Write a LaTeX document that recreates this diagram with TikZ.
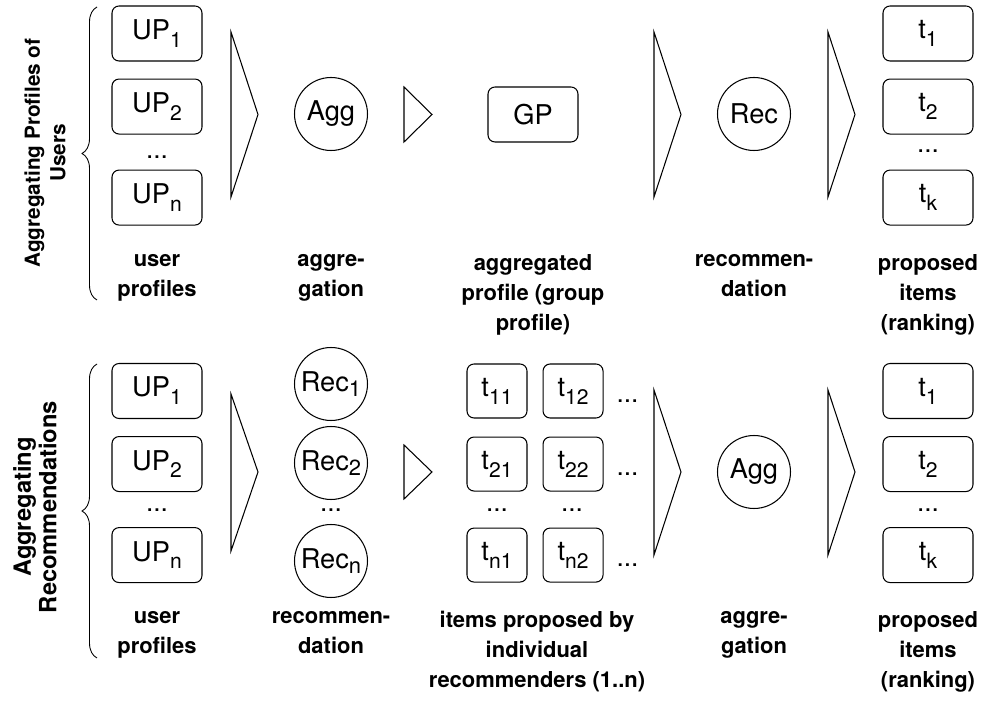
\documentclass[tikz,border=0pt]{standalone}
\usepackage{fontspec}
\setmainfont{TeX Gyre Heros}
\usepackage{tikz}
\usetikzlibrary{positioning,decorations.pathreplacing}

\newcommand{\ix}[1]{\raisebox{-0.55ex}{\fontsize{12}{12}\selectfont #1}}
\newcommand{\recsub}[1]{\raisebox{-0.3ex}{\fontsize{12.5}{12}\selectfont #1}}

\begin{document}
\begin{tikzpicture}[
    x=0.02cm, y=-0.02cm,
    line width=0.6pt,
    box/.style={draw, rounded corners=4pt, minimum width=1.8cm, minimum height=1.1cm, inner sep=1pt, font=\fontsize{15.5}{17}\selectfont},
    smallbox/.style={box, minimum width=1.2cm, minimum height=1.08cm},
    proc/.style={draw, circle, minimum size=1.46cm, inner sep=0pt, font=\fontsize{15.5}{17}\selectfont},
    dots/.style={inner sep=0pt, font=\fontsize{15}{17}\selectfont},
    caption/.style={anchor=north, align=center, inner sep=0pt, font=\bfseries\fontsize{12.5}{17}\selectfont},
    title/.style={rotate=90, align=center, inner sep=0pt, font=\bfseries\fontsize{11.8}{14.5}\selectfont},
    funnel/.style={draw, line join=miter},
    bracedeco/.style={decorate, decoration={brace, amplitude=0.3cm}, line width=0.5pt}
]
\useasboundingbox (0,0) rectangle (985,702);

% Aggregating profiles of users
\node[title] (title-top) at (45,153) {Aggregating Profiles of\\Users};
\draw[bracedeco] (97,300) -- (97,7);

\node[box] (up1) at (157,33.5) {UP\ix{1}};
\node[box, below=0.34cm of up1] (up2) {UP\ix{2}};
\node[box, below=0.7cm of up2] (upn) {UP\ix{n}};
\node[dots] (updots) at (157,157) {...};

\node[proc] (agg) at (331,114) {Agg};
\node[box] (gp) at (533,114.5) {GP};
\node[proc] (rec) at (754,114) {Rec};

\node[box] (t1) at (928,33.5) {t\ix{1}};
\node[box, below=0.34cm of t1] (t2) {t\ix{2}};
\node[box, below=0.7cm of t2] (tk) {t\ix{k}};
\node[dots] (tdots) at (928,151) {...};

\draw[funnel] (231,32) -- (258,114.5) -- (231,197) -- cycle;
\draw[funnel] (404,87) -- (432,114.5) -- (404,142) -- cycle;
\draw[funnel] (654,32) -- (681,114.5) -- (654,197) -- cycle;
\draw[funnel] (828,32) -- (855,114.5) -- (828,197) -- cycle;

\node[caption] (lbl-up) at (157,254) {user\\profiles};
\node[caption] (lbl-agg) at (331,254) {aggre-\\gation};
\node[caption] (lbl-gp) at (533,254) {aggregated\\profile (group\\profile)};
\node[caption] (lbl-rec) at (754,254) {recommen-\\dation};
\node[caption] (lbl-t) at (928,254) {proposed\\items\\(ranking)};

% Aggregating recommendations
\node[title, font=\bfseries\fontsize{13.5}{14.5}\selectfont] (title-bot) at (35,507) {Aggregating\\Recommendations};
\draw[bracedeco] (97,658) -- (97,364);

\node[box] (bup1) at (157,391) {UP\ix{1}};
\node[box, below=0.34cm of bup1] (bup2) {UP\ix{2}};
\node[box, below=0.7cm of bup2] (bupn) {UP\ix{n}};
\node[dots] (bupdots) at (157,510) {...};

\node[proc] (rec1) at (331,384) {Rec\recsub{1}};
\node[proc] (rec2) at (331,463) {Rec\recsub{2}};
\node[proc] (recn) at (331,561) {Rec\recsub{n}};
\node[dots] (recdots) at (331,510) {...};

\node[smallbox] (t11) at (497,391) {t\ix{11}};
\node[smallbox, right=0.3cm of t11] (t12) {t\ix{12}};
\node[smallbox, below=0.36cm of t11] (t21) {t\ix{21}};
\node[smallbox, right=0.3cm of t21] (t22) {t\ix{22}};
\node[smallbox, below=0.72cm of t21] (tn1) {t\ix{n1}};
\node[smallbox, right=0.3cm of tn1] (tn2) {t\ix{n2}};
\node[dots] (col1dots) at (497,510) {...};
\node[dots] (col2dots) at (572,510) {...};
\node[dots, right=0.25cm of t12, yshift=-6pt] (row1dots) {...};
\node[dots, right=0.25cm of t22, yshift=-6pt] (row2dots) {...};
\node[dots, right=0.25cm of tn2, yshift=-6pt] (rowndots) {...};

\node[proc] (bagg) at (754,472) {Agg};

\node[box] (bt1) at (928,391) {t\ix{1}};
\node[box, below=0.34cm of bt1] (bt2) {t\ix{2}};
\node[box, below=0.7cm of bt2] (btk) {t\ix{k}};
\node[dots] (btdots) at (928,510) {...};

\draw[funnel] (231,394) -- (258,472) -- (231,551) -- cycle;
\draw[funnel] (404,445) -- (432,472) -- (404,499) -- cycle;
\draw[funnel] (654,390) -- (681,472) -- (654,555) -- cycle;
\draw[funnel] (828,390) -- (855,472) -- (828,555) -- cycle;

\node[caption] (blbl-up) at (157,611) {user\\profiles};
\node[caption] (blbl-rec) at (331,611) {recommen-\\dation};
\node[caption] (blbl-t) at (537,611) {items proposed by\\individual\\recommenders (1..n)};
\node[caption] (blbl-agg) at (754,611) {aggre-\\gation};
\node[caption] (blbl-tk) at (928,611) {proposed\\items\\(ranking)};

\end{tikzpicture}
\end{document}
